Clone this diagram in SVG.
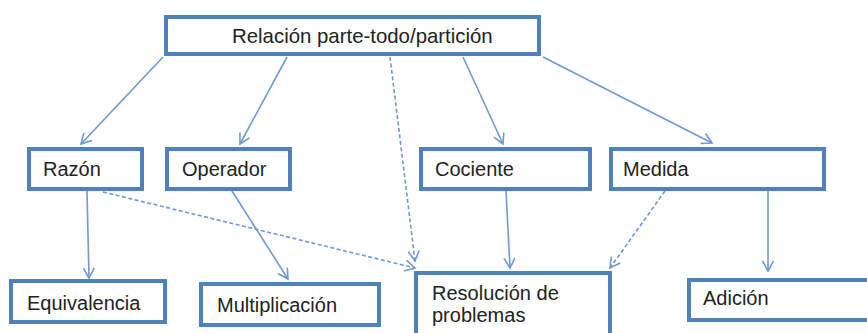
<svg xmlns="http://www.w3.org/2000/svg" width="867" height="333" viewBox="0 0 867 333">
<defs>
<style>
.box{fill:#fff;stroke:#4F81BD;stroke-width:4}
.lbl{font-family:"Liberation Sans",Arial,sans-serif;font-size:20px;fill:#222}
.c{fill:none;stroke:#6E9AD0;stroke-width:1.6}
.d{stroke-dasharray:4 2.5}
</style>
<marker id="ah" markerUnits="userSpaceOnUse" markerWidth="16" markerHeight="16" refX="11" refY="6" orient="auto">
<path d="M1,0.5 L11,6 L1,11.5" fill="none" stroke="#6E9AD0" stroke-width="1.6"/>
</marker>
</defs>
<rect width="867" height="333" fill="#fff"/>
<g id="connectors">
<line class="c" x1="163" y1="57" x2="81" y2="144" marker-end="url(#ah)"/>
<line class="c" x1="287" y1="57" x2="240" y2="144" marker-end="url(#ah)"/>
<line class="c d" x1="390" y1="57" x2="415" y2="261" marker-end="url(#ah)"/>
<line class="c" x1="463" y1="57" x2="503" y2="144" marker-end="url(#ah)"/>
<line class="c" x1="543" y1="57" x2="712" y2="143" marker-end="url(#ah)"/>
<line class="c" x1="87" y1="191" x2="89" y2="278" marker-end="url(#ah)"/>
<line class="c" x1="232" y1="191" x2="288" y2="279" marker-end="url(#ah)"/>
<line class="c d" x1="103" y1="192" x2="415" y2="268" marker-end="url(#ah)"/>
<line class="c" x1="506" y1="191" x2="510" y2="268" marker-end="url(#ah)"/>
<line class="c d" x1="665" y1="191" x2="610" y2="268" marker-end="url(#ah)"/>
<line class="c" x1="768" y1="191" x2="768" y2="271" marker-end="url(#ah)"/>
</g>
<g id="n-top"><rect class="box" x="166" y="17" width="373" height="37"/><text class="lbl" x="232" y="43" style="font-size:20.4px">Relación parte-todo/partición</text></g>
<g id="n-razon"><rect class="box" x="29" y="149" width="113" height="40"/><text class="lbl" x="43" y="176">Razón</text></g>
<g id="n-operador"><rect class="box" x="167" y="149" width="123" height="40"/><text class="lbl" x="182" y="176">Operador</text></g>
<g id="n-cociente"><rect class="box" x="421" y="149" width="169" height="40"/><text class="lbl" x="435" y="176">Cociente</text></g>
<g id="n-medida"><rect class="box" x="611" y="149" width="213" height="40"/><text class="lbl" x="623" y="176">Medida</text></g>
<g id="n-equivalencia"><rect class="box" x="11" y="281" width="154" height="41"/><text class="lbl" x="27" y="310">Equivalencia</text></g>
<g id="n-multiplicacion"><rect class="box" x="201" y="284" width="178" height="41"/><text class="lbl" x="217" y="312">Multiplicación</text></g>
<g id="n-resolucion"><rect class="box" x="416" y="273" width="194" height="80"/><text class="lbl" x="432" y="300">Resolución de</text><text class="lbl" x="432" y="322">problemas</text></g>
<g id="n-adicion"><rect class="box" x="689" y="280" width="200" height="40"/><text class="lbl" x="703" y="305">Adición</text></g>
</svg>
